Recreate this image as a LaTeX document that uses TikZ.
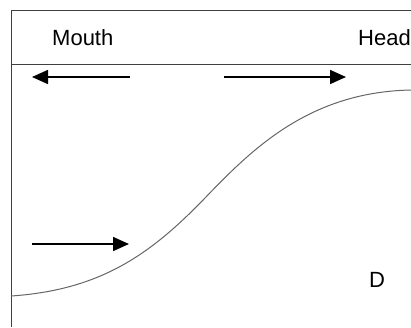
\documentclass[tikz,border=0pt]{standalone}
\usepackage{fontspec}
\setmainfont{Liberation Sans}
\usetikzlibrary{arrows.meta}
\begin{document}
\begin{tikzpicture}[x=1pt,y=-1pt,
  frameline/.style={draw=black!75, line width=1pt},
  flow/.style={draw=black, line width=1.6pt, -{Triangle[length=16pt,width=14pt]}},
  curveline/.style={draw=black!60, line width=1pt},
  lbl/.style={font=\fontsize{22}{26}\selectfont, inner sep=0pt, anchor=base west}]
\clip (0,0) rectangle (411,327);
\fill[white] (0,0) rectangle (411,327);
\coordinate (tl) at (11,10);
\coordinate (tr) at (411,10);
\coordinate (ml) at (11,64);
\coordinate (mr) at (411,64);
\coordinate (bl) at (11,327);
\draw[frameline] (tr) -- (tl) -- (bl);
\draw[frameline] (ml) -- (mr);
\node[lbl] (mouth) at (52,45) {Mouth};
\node[lbl] (head) at (358,45) {Head};
\node[lbl] (d) at (369,287) {D};
\coordinate (a1s) at (130,77);
\coordinate (a1e) at (32,77);
\coordinate (a2s) at (224,77);
\coordinate (a2e) at (346,77);
\coordinate (a3s) at (32,244);
\coordinate (a3e) at (129,244);
\draw[flow] (a1s) -- (a1e);
\draw[flow] (a2s) -- (a2e);
\draw[flow] (a3s) -- (a3e);
\coordinate (c0) at (11,296);
\coordinate (c1) at (205,198);
\coordinate (c2) at (411,90);
\draw[curveline] (c0) .. controls (100,290) and (150,255) .. (c1)
  .. controls (253,148) and (310,92) .. (c2);
\end{tikzpicture}
\end{document}
